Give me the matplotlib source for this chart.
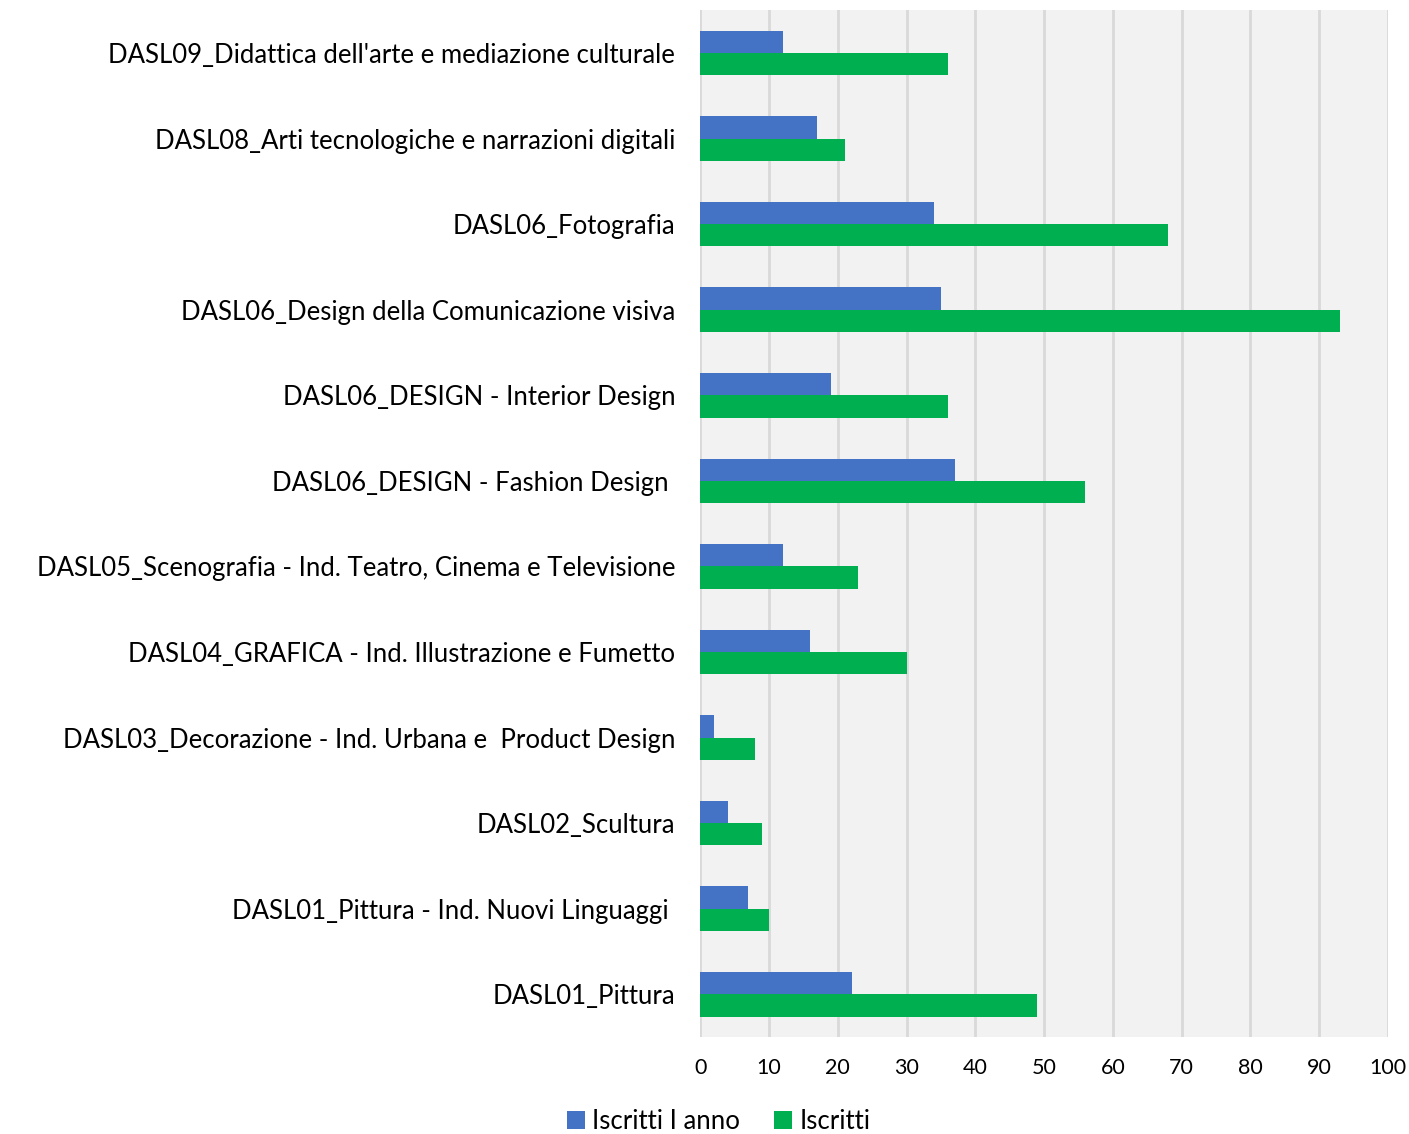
import matplotlib.pyplot as plt
import numpy as np

# categories, top to bottom as in the chart
categories = [
    "DASL09_Didattica dell'arte e mediazione culturale",
    "DASL08_Arti tecnologiche e narrazioni digitali",
    "DASL06_Fotografia",
    "DASL06_Design della Comunicazione visiva",
    "DASL06_DESIGN - Interior Design",
    "DASL06_DESIGN - Fashion Design ",
    "DASL05_Scenografia - Ind. Teatro, Cinema e Televisione",
    "DASL04_GRAFICA - Ind. Illustrazione e Fumetto",
    "DASL03_Decorazione - Ind. Urbana e  Product Design",
    "DASL02_Scultura",
    "DASL01_Pittura - Ind. Nuovi Linguaggi ",
    "DASL01_Pittura",
]
iscritti_1 = [12, 17, 34, 35, 19, 37, 12, 16, 2, 4, 7, 22]
iscritti = [36, 21, 68, 93, 36, 56, 23, 30, 8, 9, 10, 49]

plt.rcParams['font.family'] = ['Lato', 'DejaVu Sans']

fig = plt.figure(figsize=(14.09, 11.34), dpi=100)
ax = fig.add_axes([0.497, 0.0855, 0.488, 0.9055])
ax.set_facecolor('#F2F2F2')

y = np.arange(len(categories))
h = 0.26
ax.barh(y - h / 2, iscritti_1, height=h, color='#4472C4', label='Iscritti I anno', zorder=3)
ax.barh(y + h / 2, iscritti, height=h, color='#00B050', label='Iscritti', zorder=3)

ax.set_ylim(len(categories) - 0.5, -0.5)
ax.set_xlim(0, 100)
ax.set_xticks(range(0, 101, 10))
ax.set_yticks(y)
ax.set_yticklabels(categories, fontsize=18.5, va='center_baseline')
ax.tick_params(axis='x', labelsize=15.5, length=0, pad=15)
ax.tick_params(axis='y', length=0, pad=18)
ax.grid(axis='x', color='#D9D9D9', linewidth=2, zorder=0)
for s in ax.spines.values():
    s.set_visible(False)

fig.legend(loc='center', bbox_to_anchor=(0.51, 0.011), ncol=2, frameon=False,
           fontsize=18.5, handlelength=0.7, handleheight=0.7, handletextpad=0.3,
           columnspacing=1.3, borderpad=0)

fig.savefig('out.png', dpi=100)
